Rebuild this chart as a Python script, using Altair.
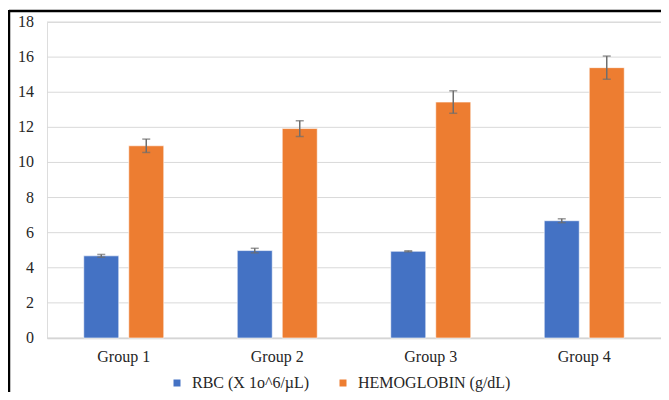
import altair as alt
import pandas as pd

groups = ["Group 1", "Group 2", "Group 3", "Group 4"]
series = ["RBC (X 1o^6/µL)", "HEMOGLOBIN (g/dL)"]
rbc = [4.68, 4.98, 4.94, 6.68]
rbc_err = [0.08, 0.13, 0.03, 0.11]
hgb = [10.95, 11.93, 13.44, 15.40]
hgb_err = [0.38, 0.45, 0.64, 0.66]
y_ticks = [0, 2, 4, 6, 8, 10, 12, 14, 16, 18]

rows = []
for g, v, e in zip(groups, rbc, rbc_err):
    rows.append({"group": g, "series": series[0], "value": v, "lo": v - e, "hi": v + e})
for g, v, e in zip(groups, hgb, hgb_err):
    rows.append({"group": g, "series": series[1], "value": v, "lo": v - e, "hi": v + e})
df = pd.DataFrame(rows)
tick_df = pd.DataFrame({"t": y_ticks, "lab": [str(t) for t in y_ticks]})

FONT = "Liberation Serif"
W, H = 614, 316

x = alt.X("group:N", sort=groups, title=None,
          scale=alt.Scale(paddingInner=0, paddingOuter=0),
          axis=alt.Axis(labelAngle=0, ticks=False, domainColor="#d0d0d0", domainWidth=1.5,
                        labelPadding=10, labelFont=FONT, labelFontSize=16, labelColor="#262626"))
xo = alt.XOffset("series:N", sort=series,
                 scale=alt.Scale(paddingInner=0.222, paddingOuter=0.8167))

yscale = alt.Scale(domain=[0, 18], nice=False)

grid = alt.Chart(tick_df).mark_rule(color="#d9d9d9", strokeWidth=1).encode(
    x=alt.value(0), x2=alt.value(W),
    y=alt.Y("t:Q", scale=yscale, axis=None))
ylabels = alt.Chart(tick_df).mark_text(align="right", baseline="middle", font=FONT,
                                       fontSize=16, color="#262626").encode(
    x=alt.value(-13), y=alt.Y("t:Q", scale=yscale, axis=None), text="lab:N")

base = alt.Chart(df)

bars = base.mark_bar(stroke="#ffffff", strokeOpacity=0.6, strokeWidth=1).encode(
    x=x, xOffset=xo,
    y=alt.Y("value:Q", title=None, scale=yscale, axis=None),
    color=alt.Color("series:N", sort=series,
                    scale=alt.Scale(domain=series, range=["#4472C4", "#ED7D31"]),
                    legend=alt.Legend(title=None, orient="none", direction="horizontal",
                                      legendX=122, legendY=353, symbolType="square",
                                      symbolSize=49, symbolStrokeWidth=0, labelFont=FONT,
                                      labelFontSize=16, labelColor="#262626", labelLimit=300,
                                      columnPadding=25, labelOffset=7)),
)

err_rule = base.mark_rule(color="#6e6e6e", strokeWidth=1.5).encode(
    x=x, xOffset=xo, y=alt.Y("lo:Q", scale=yscale, axis=None), y2="hi:Q")
cap_hi = base.mark_tick(color="#6e6e6e", size=8, thickness=1.5, orient="horizontal").encode(
    x=x, xOffset=xo, y=alt.Y("hi:Q", scale=yscale, axis=None))
cap_lo = base.mark_tick(color="#6e6e6e", size=8, thickness=1.5, orient="horizontal").encode(
    x=x, xOffset=xo, y=alt.Y("lo:Q", scale=yscale, axis=None))

border_top = alt.Chart(pd.DataFrame({"a": [0]})).mark_rule(color="black", strokeWidth=2.5).encode(
    x=alt.value(-38), x2=alt.value(W + 10), y=alt.value(-11))
border_left = alt.Chart(pd.DataFrame({"a": [0]})).mark_rule(color="black", strokeWidth=2.5).encode(
    x=alt.value(-38), y=alt.value(-12), y2=alt.value(H + 60))

chart = alt.layer(grid, ylabels, bars, err_rule, cap_hi, cap_lo, border_top, border_left).properties(
    width=W, height=H,
    autosize="none",
    padding={"left": 39, "top": 14, "right": 0, "bottom": 54},
).configure_view(stroke=None).configure(background="white")

chart.save("out.html", embed_options={"renderer": "svg", "actions": False})
